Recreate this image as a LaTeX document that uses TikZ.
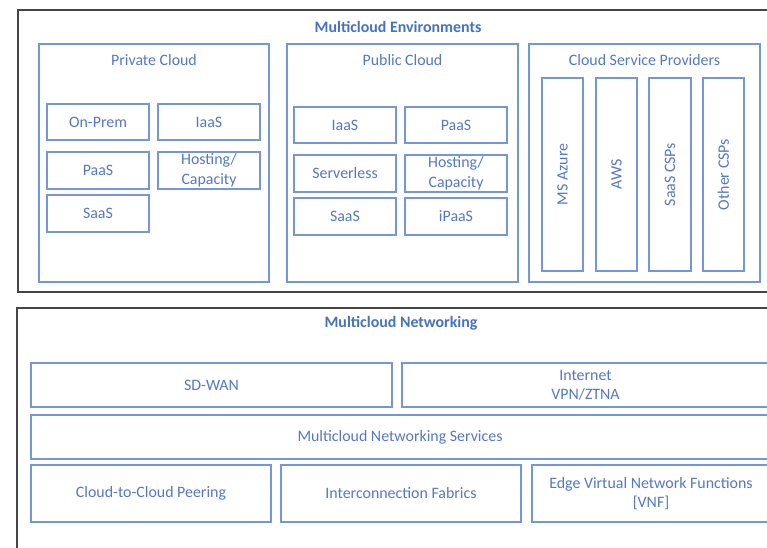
\documentclass[tikz,border=0pt]{standalone}
\usepackage{fontspec}
\setmainfont{Carlito}
\definecolor{boxcol}{RGB}{118,150,220}
\definecolor{txtcol}{RGB}{84,120,202}
\definecolor{ttlcol}{RGB}{68,114,196}
\definecolor{frmcol}{RGB}{70,70,70}
\begin{document}
\begin{tikzpicture}[x=1pt,y=-1pt,
  frame/.style={draw=frmcol,line width=1.8pt,inner sep=0pt,outer sep=0pt},
  panel/.style={draw=boxcol,line width=1.3pt,inner sep=0pt,outer sep=0pt},
  cell/.style={draw=boxcol,line width=1.3pt,inner sep=0pt,outer sep=0pt,
    text=txtcol,font=\fontsize{15.9}{19.5}\selectfont,align=center},
  vcell/.style={cell,rotate=90},
  ptitle/.style={text=txtcol,font=\fontsize{15.9}{19.5}\selectfont,inner sep=0pt},
  mtitle/.style={text=ttlcol,font=\fontsize{15.9}{19.5}\selectfont\bfseries,inner sep=0pt}]
\useasboundingbox (0,0) rectangle (767,547);
\clip (0,0) rectangle (767,547);
\fill[white] (0,0) rectangle (767,547);
% frames
\node[frame,minimum width=782pt,minimum height=282pt] (envframe) at (409,151) {};
\node[frame,minimum width=783pt,minimum height=262pt] (netframe) at (408.5,439) {};
\node[mtitle] (envtitle) at (398,27) {Multicloud Environments};
\node[mtitle] (nettitle) at (401,323) {Multicloud Networking};
% panels
\node[panel,minimum width=230pt,minimum height=238pt] (private) at (154,163) {};
\node[panel,minimum width=231pt,minimum height=238pt] (public) at (402.5,163) {};
\node[panel,minimum width=231pt,minimum height=238pt] (csp) at (644.5,163) {};
\node[ptitle] (privtitle) at (154,60) {Private Cloud};
\node[ptitle] (pubtitle) at (402.5,60) {Public Cloud};
\node[ptitle] (csptitle) at (644.5,60) {Cloud Service Providers};
% private cloud cells
\node[cell,minimum width=102pt,minimum height=36pt] (onprem) at (98,122) {On-Prem};
\node[cell,minimum width=102pt,minimum height=36pt] (priaas) at (209,122) {IaaS};
\node[cell,minimum width=102pt,minimum height=37pt] (prpaas) at (98,170.5) {PaaS};
\node[cell,minimum width=102pt,minimum height=37pt] (prhost) at (209,170.5) {Hosting/\\Capacity};
\node[cell,minimum width=102pt,minimum height=37pt] (prsaas) at (98,213.5) {SaaS};
% public cloud cells
\node[cell,minimum width=102pt,minimum height=36pt] (puiaas) at (345,125) {IaaS};
\node[cell,minimum width=102pt,minimum height=36pt] (pupaas) at (456,125) {PaaS};
\node[cell,minimum width=102pt,minimum height=37pt] (puserv) at (345,173.5) {Serverless};
\node[cell,minimum width=102pt,minimum height=37pt] (puhost) at (456,173.5) {Hosting/\\Capacity};
\node[cell,minimum width=102pt,minimum height=37pt] (pusaas) at (345,216.5) {SaaS};
\node[cell,minimum width=102pt,minimum height=37pt] (puipaas) at (456,216.5) {iPaaS};
% CSP vertical cells
\node[vcell,minimum width=193pt,minimum height=41pt] (azure) at (562.5,174.5) {MS Azure};
\node[vcell,minimum width=193pt,minimum height=41pt] (aws) at (616.5,174.5) {AWS};
\node[vcell,minimum width=193pt,minimum height=42pt] (saascsp) at (670,174.5) {SaaS CSPs};
\node[vcell,minimum width=193pt,minimum height=41pt] (othercsp) at (723.5,174.5) {Other CSPs};
% networking
\node[cell,minimum width=361pt,minimum height=44pt] (sdwan) at (211.5,385) {SD-WAN};
\node[cell,minimum width=367pt,minimum height=44pt] (internet) at (585.5,385) {Internet\\VPN/ZTNA};
\node[cell,minimum width=738pt,minimum height=44pt] (mns) at (400,437) {Multicloud Networking Services};
\node[cell,minimum width=240pt,minimum height=57pt] (c2c) at (151,493.5) {Cloud-to-Cloud Peering};
\node[cell,minimum width=240pt,minimum height=57pt] (ifab) at (401,493.5) {Interconnection Fabrics};
\node[cell,minimum width=238pt,minimum height=57pt] (vnf) at (651,493.5) {Edge Virtual Network Functions\\{[VNF]}};
\end{tikzpicture}
\end{document}
